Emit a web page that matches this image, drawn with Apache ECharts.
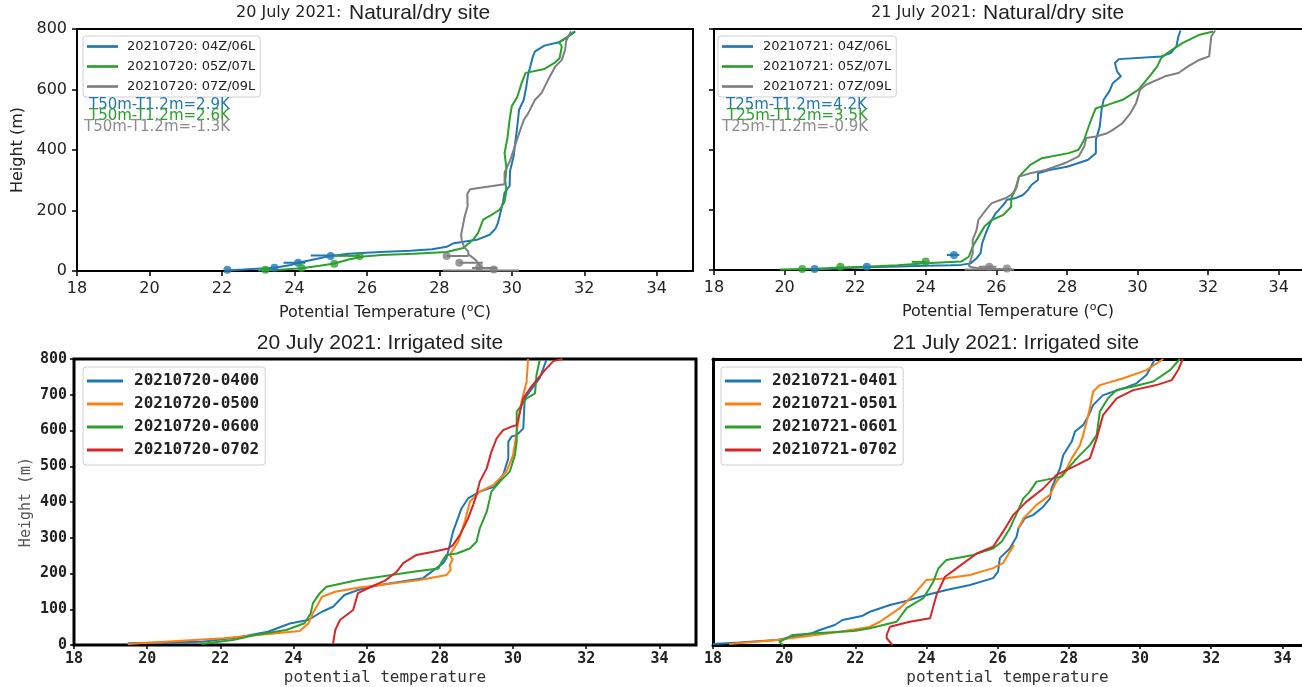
<!DOCTYPE html>
<html><head><meta charset="utf-8">
<script src="https://cdn.jsdelivr.net/npm/echarts@6/dist/echarts.min.js"></script>
<style>html,body{margin:0;padding:0;background:#fff}#c{width:1302px;height:687px}</style>
</head><body><div id="c"></div>
<script>
// ---------- DATA ----------
const panelTitles = [
  ['20 July 2021:', 'Natural/dry site'],
  ['21 July 2021:', 'Natural/dry site'],
  ['20 July 2021: Irrigated site'],
  ['21 July 2021: Irrigated site']
];
const dryNames20 = ['20210720: 04Z/06L', '20210720: 05Z/07L', '20210720: 07Z/09L'];
const dryNames21 = ['20210721: 04Z/06L', '20210721: 05Z/07L', '20210721: 07Z/09L'];
const irrNames20 = ['20210720-0400', '20210720-0500', '20210720-0600', '20210720-0702'];
const irrNames21 = ['20210721-0401', '20210721-0501', '20210721-0601', '20210721-0702'];
const dryNotes20 = ['T50m-T1.2m=2.9K', 'T50m-T1.2m=2.6K', 'T50m-T1.2m=-1.3K'];
const dryNotes21 = ['T25m-T1.2m=4.2K', 'T25m-T1.2m=3.5K', 'T25m-T1.2m=-0.9K'];

// [potential temperature (C), height (m)]
const dry20_04 = [[22.1,2],[22.6,5],[23.45,11],[23.9,20],[24.1,27],[24.6,40],[25.0,50],[25.5,57],[26.36,63],[27.2,67],[27.8,72],[28.2,80],[28.4,92],[29.03,103],[29.39,120],[29.55,140],[29.62,160],[29.68,190],[29.76,230],[29.8,259],[29.94,281],[29.95,330],[30.05,380],[30.1,430],[30.15,477],[30.2,533],[30.33,566],[30.4,610],[30.45,650],[30.52,680],[30.58,709],[30.64,726],[30.9,745],[31.3,756],[31.5,770],[31.75,792]];
const dry20_05 = [[23.0,2],[23.6,4],[24.2,9],[24.7,17],[25.1,25],[25.5,38],[25.9,48],[26.4,53],[27.3,57],[28.2,63],[28.66,76],[28.93,103],[29.07,126],[29.21,170],[29.5,190],[29.67,203],[29.8,230],[29.85,264],[29.82,300],[29.85,340],[29.8,390],[29.88,440],[29.95,510],[30.0,545],[30.15,575],[30.27,621],[30.38,655],[30.9,668],[31.2,690],[31.32,704],[31.38,742],[31.3,756],[31.56,776],[31.7,790]];
const dry20_07 = [[29.05,3],[29.15,10],[29.1,20],[29.0,37],[28.8,55],[28.8,64],[28.68,80],[28.62,100],[28.6,120],[28.65,150],[28.7,181],[28.78,214],[28.77,255],[28.85,270],[29.8,287],[29.8,326],[29.95,364],[30.08,411],[30.2,455],[30.33,499],[30.45,521],[30.64,566],[30.82,588],[31.0,632],[31.2,676],[31.38,698],[31.47,731],[31.5,760],[31.63,792]];
const dry20_dots04 = [[22.15,4],[23.45,11],[24.1,27],[25.0,50]];
const dry20_dots05 = [[23.2,4],[24.2,10],[25.1,24],[25.8,50]];
const dry20_dots07 = [[28.2,50],[28.55,27],[29.1,12],[29.5,5]];
// tower error bars: [low, high, height]
const dry20_bars04 = [[24.45,25.1,51],[23.7,24.3,27]];
const dry20_bars05 = [[25.1,25.8,50]];
const dry20_bars07 = [[28.2,28.8,50],[28.55,29.2,27],[28.9,29.6,10],[28.1,30.2,2]];

const dry21_04 = [[20.8,2],[21.5,5],[22.33,9],[23.2,12],[24.0,14],[24.7,16],[25.0,17],[25.27,22],[25.44,39],[25.55,55],[25.6,89],[25.7,122],[25.82,155],[25.98,188],[26.2,216],[26.3,233],[26.53,238],[26.75,249],[26.9,266],[27.0,283],[27.18,299],[27.18,321],[27.5,332],[28.0,343],[28.33,355],[28.6,366],[28.82,388],[28.82,432],[28.93,476],[28.98,532],[29.04,565],[29.2,593],[29.3,620],[29.53,643],[29.42,659],[29.36,687],[29.47,700],[30.67,709],[30.94,720],[31.1,742],[31.16,776],[31.22,795]];
const dry21_05 = [[19.87,2],[20.86,4],[21.6,8],[22.27,11],[23.2,16],[24.0,22],[25.0,28],[25.22,44],[25.33,78],[25.44,100],[25.66,144],[25.87,166],[26.2,183],[26.42,210],[26.42,238],[26.58,277],[26.64,310],[26.96,349],[27.29,371],[28.05,388],[28.33,399],[28.49,432],[28.55,454],[28.65,488],[28.76,521],[28.82,537],[29.15,548],[29.58,565],[30.02,598],[30.34,643],[30.56,676],[30.67,704],[30.84,720],[31.27,753],[31.76,781],[32.14,792]];
const dry21_07 = [[26.45,2],[25.9,4],[25.5,6],[25.3,9],[25.22,14],[25.27,33],[25.33,55],[25.33,100],[25.44,133],[25.49,166],[25.7,199],[25.87,222],[26.25,238],[26.42,249],[26.53,266],[26.64,310],[26.96,321],[27.4,332],[27.95,355],[28.33,377],[28.49,410],[28.55,438],[28.82,443],[29.14,454],[29.3,465],[29.58,488],[29.8,521],[29.96,554],[30.07,598],[30.24,615],[30.78,643],[31.16,654],[31.43,676],[31.76,698],[32.03,709],[32.09,776],[32.2,795]];
const dry21_dots04 = [[20.85,3],[22.33,11],[24.8,50]];
const dry21_dots05 = [[20.5,3],[21.58,11],[24.0,28]];
const dry21_dots07 = [[25.8,11],[26.3,5]];
const dry21_bars04 = [[24.6,24.95,50]];
const dry21_bars05 = [[23.6,24.0,27]];
const dry21_bars07 = [[25.1,26.5,2],[25.5,26.0,11]];

const irr20_0400 = [[19.47,5],[21.5,9],[22.5,22],[23.3,37],[23.9,60],[24.4,70],[24.78,93],[25.08,107],[25.39,140],[25.76,154],[26.12,163],[26.36,168],[27.54,187],[28.09,229],[28.18,243],[28.27,280],[28.36,317],[28.59,382],[28.77,410],[29.09,429],[29.5,443],[29.73,476],[29.87,522],[29.87,569],[29.96,583],[30.1,587],[30.28,606],[30.32,690],[30.73,747],[30.91,797]];
const irr20_0500 = [[19.47,3],[22.09,19],[24.17,39],[24.41,61],[24.53,89],[24.78,135],[25.14,149],[25.76,160],[26.36,168],[27.45,182],[28.18,196],[28.3,210],[28.27,224],[28.35,240],[28.27,252],[28.5,289],[28.68,345],[28.82,401],[29.09,429],[29.46,448],[29.82,485],[30.0,531],[30.1,597],[30.23,680],[30.37,737],[30.41,800]];
const irr20_0600 = [[21.48,3],[22.34,14],[22.95,28],[23.8,42],[24.3,61],[24.47,89],[24.53,117],[24.72,145],[24.9,163],[25.76,182],[26.36,191],[27.27,205],[27.96,214],[28.05,233],[28.18,252],[28.46,256],[28.82,270],[29.0,289],[29.09,326],[29.28,373],[29.41,429],[29.64,457],[29.91,485],[30.05,531],[30.1,569],[30.1,653],[30.37,690],[30.6,704],[30.64,755],[30.73,797]];
const irr20_0702 = [[25.08,3],[25.14,42],[25.27,70],[25.63,98],[25.76,145],[26.12,163],[26.5,180],[26.82,205],[27.0,229],[27.36,252],[27.82,261],[28.23,270],[28.36,280],[28.55,308],[28.77,354],[28.91,392],[29.0,420],[29.09,457],[29.28,494],[29.41,541],[29.55,578],[29.73,601],[29.96,611],[30.1,615],[30.19,653],[30.28,690],[30.5,723],[30.87,769],[31.1,794],[31.35,800]];

const irr21_0401 = [[18.0,3],[18.72,7],[19.8,14],[20.78,33],[21.0,42],[21.42,56],[21.64,70],[22.18,81],[22.41,93],[22.97,112],[23.35,121],[24.0,140],[24.56,154],[25.22,168],[25.87,187],[26.01,205],[26.06,243],[26.34,270],[26.53,303],[26.58,326],[26.76,354],[27.0,364],[27.28,387],[27.47,410],[27.51,438],[27.65,471],[27.75,494],[27.84,531],[28.08,569],[28.17,597],[28.4,615],[28.54,639],[28.68,671],[28.96,699],[29.53,718],[29.9,732],[30.18,755],[30.42,800]];
const irr21_0501a = [[18.45,3],[19.8,14],[21.42,35],[22.18,47],[22.41,51],[22.69,65],[23.25,103],[23.63,140],[24.0,182],[24.56,187],[25.22,196],[25.87,215],[26.15,229],[26.34,261],[26.46,280]];
const irr21_0501b = [[26.58,326],[26.72,354],[27.09,392],[27.47,420],[27.65,457],[27.94,494],[28.08,522],[28.31,559],[28.4,587],[28.5,625],[28.59,662],[28.68,709],[28.87,727],[29.53,746],[30.18,769],[30.65,800]];
const irr21_0601 = [[19.97,0],[19.86,9],[20.24,28],[20.88,33],[21.96,39],[22.41,47],[23.16,65],[23.44,103],[23.91,131],[24.19,177],[24.33,214],[24.56,238],[25.31,252],[25.87,270],[26.11,289],[26.34,326],[26.58,378],[26.72,410],[26.9,429],[27.09,457],[27.8,471],[27.98,494],[28.22,522],[28.59,559],[28.78,587],[28.87,653],[29.1,690],[29.34,713],[29.81,723],[30.37,737],[30.84,769],[31.12,800]];
const irr21_0702 = [[23.04,0],[22.88,19],[22.88,28],[22.97,51],[23.53,65],[24.1,75],[24.28,140],[24.52,191],[24.85,215],[25.41,256],[25.87,275],[26.15,317],[26.44,364],[26.81,401],[27.28,438],[27.65,476],[28.22,503],[28.59,522],[28.78,578],[28.96,643],[29.34,690],[29.81,713],[30.46,727],[30.89,741],[31.07,769],[31.2,800]];

// axis extents (right panels are cut at the image edge)
const xMinAll = 18, xTickStep = 2;
const xMaxByPanel = [35, 34.66, 35, 34.55];
const yMax = 800, yStepTop = 200, yStepBottom = 100;

// ---------- STYLE ----------
const C = {blue:'#1f77b4', orange:'#ff7f0e', green:'#2ca02c', red:'#d62728', gray:'#7f7f7f'};
const SANS = 'DejaVu Sans', MONO = 'DejaVu Sans Mono', ARIAL = 'Liberation Sans';
const TXT = '#222';
const LINE_ICON = 'path://M0,0H30V2.6H0Z';

const grids = [
  {left:77, top:29, width:616, height:242, show:true, borderColor:'#000', borderWidth:2},
  {left:714, top:29, right:0, height:241, show:false},
  {left:74, top:359, width:622, height:286, show:true, borderColor:'#000', borderWidth:3},
  {left:713, top:359, right:0, height:286, show:false}
];

function xAx(gi, top, lineW){
  const font = top ? {fontFamily:SANS, fontSize:16, color:TXT} : {fontFamily:MONO, fontWeight:'bold', fontSize:15, color:TXT};
  return {
    gridIndex:gi, type:'value', min:xMinAll, max:xMaxByPanel[gi], interval:xTickStep,
    axisLine:{show:lineW>0, onZero:false, lineStyle:{color:'#000', width:lineW||1}}, splitLine:{show:false},
    axisTick:{show:true, length: top?5:4, lineStyle:{color:'#000', width:1.5}},
    axisLabel:Object.assign({showMaxLabel:false, margin: top?10:7}, font),
    name: top ? 'Potential Temperature ({s|o}{n|C})' : 'potential temperature',
    nameLocation:'middle', nameGap: top?32:25,
    nameTextStyle: top ? {fontFamily:SANS, fontSize:16, color:TXT,
        rich:{s:{fontFamily:SANS, fontSize:11, color:TXT, padding:[0,0,9,0]}, n:{fontFamily:SANS, fontSize:16, color:TXT}}}
      : {fontFamily:MONO, fontSize:16, color:'#333'}
  };
}
function topEdge(gi, lineW){
  return {gridIndex:gi, type:'value', position:'top', min:xMinAll, max:xMaxByPanel[gi],
    axisLine:{show:true, onZero:false, lineStyle:{color:'#000', width:lineW}},
    axisTick:{show:false}, axisLabel:{show:false}, splitLine:{show:false}};
}
function yAx(gi, top, labels, ticks, lineW){
  const font = top ? {fontFamily:SANS, fontSize:16, color:TXT} : {fontFamily:MONO, fontWeight:'bold', fontSize:15, color:TXT};
  return {
    gridIndex:gi, type:'value', min:0, max:yMax, interval: top?yStepTop:yStepBottom,
    axisLine:{show:lineW>0, onZero:false, lineStyle:{color:'#000', width:lineW||1}}, splitLine:{show:false},
    axisTick:{show:ticks, length: top?5:4, lineStyle:{color:'#000', width:1.5}},
    axisLabel:Object.assign({show:labels, margin: top?10:7}, font),
    name: labels ? 'Height (m)' : '', nameLocation:'middle', nameRotate:90, nameGap: top?51:40,
    nameTextStyle: top ? {fontFamily:SANS, fontSize:16, color:TXT} : {fontFamily:MONO, fontSize:15, color:'#555'}
  };
}

const series = [];
function addLine(name, data, color, gi){
  series.push({type:'line', name, data, xAxisIndex:gi, yAxisIndex:gi, symbol:'none', showSymbol:false,
    lineStyle:{color, width:2}, itemStyle:{color}, z:3, silent:true});
}
function addDots(data, color, gi){
  series.push({type:'scatter', name:'_dots'+series.length, data, xAxisIndex:gi, yAxisIndex:gi,
    symbol:'circle', symbolSize:8, itemStyle:{color}, z:4, silent:true});
}
function addBars(bars, color, gi){
  const d = [];
  bars.forEach(b => { d.push([b[0], b[2]], [b[1], b[2]], ['-','-']); });
  series.push({type:'line', name:'_bars'+series.length, data:d, xAxisIndex:gi, yAxisIndex:gi, symbol:'none',
    connectNulls:false, lineStyle:{color, width:2}, itemStyle:{color}, z:3, silent:true});
}

const dryCols = [C.blue, C.green, C.gray];
[dry20_04, dry20_05, dry20_07].forEach((d,i)=>addLine(dryNames20[i], d, dryCols[i], 0));
[dry20_bars04, dry20_bars05, dry20_bars07].forEach((d,i)=>addBars(d, dryCols[i], 0));
[dry20_dots04, dry20_dots05, dry20_dots07].forEach((d,i)=>addDots(d, dryCols[i], 0));
[dry21_04, dry21_05, dry21_07].forEach((d,i)=>addLine(dryNames21[i], d, dryCols[i], 1));
[dry21_bars04, dry21_bars05, dry21_bars07].forEach((d,i)=>addBars(d, dryCols[i], 1));
[dry21_dots04, dry21_dots05, dry21_dots07].forEach((d,i)=>addDots(d, dryCols[i], 1));
const irrCols = [C.blue, C.orange, C.green, C.red];
[irr20_0400, irr20_0500, irr20_0600, irr20_0702].forEach((d,i)=>addLine(irrNames20[i], d, irrCols[i], 2));
addLine(irrNames21[0], irr21_0401, C.blue, 3);
addLine(irrNames21[1], irr21_0501a, C.orange, 3);
addLine(irrNames21[1], irr21_0501b, C.orange, 3);
addLine(irrNames21[2], irr21_0601, C.green, 3);
addLine(irrNames21[3], irr21_0702, C.red, 3);

function legend(names, cols, left, top, mono, lineW, textPad, itemGap){
  return {
    data:names.map((n,i)=>({name:n, icon:LINE_ICON, itemStyle:{color:cols[i]}})),
    orient:'vertical', left, top, selectedMode:false,
    backgroundColor:'#fff', borderColor:'#d0d0d0', borderWidth:1, borderRadius:3,
    padding: mono ? [6,6,7,4] : [4,5,4,4],
    itemWidth:lineW, itemHeight:14, itemGap, symbolKeepAspect:true,
    textStyle: mono ? {fontFamily:MONO, fontWeight:'bold', fontSize:16, color:TXT, padding:[0,0,0,textPad]}
                    : {fontFamily:SANS, fontSize:13, color:TXT, padding:[0,0,0,textPad]}
  };
}

const titles = [
  {text:panelTitles[0][0], left:236, top:5, textStyle:{fontFamily:SANS, fontSize:16, fontWeight:'normal', color:TXT}},
  {text:panelTitles[0][1], left:349, top:3, textStyle:{fontFamily:ARIAL, fontSize:21, fontWeight:'normal', color:TXT}},
  {text:panelTitles[1][0], left:871, top:5, textStyle:{fontFamily:SANS, fontSize:16, fontWeight:'normal', color:TXT}},
  {text:panelTitles[1][1], left:983, top:3, textStyle:{fontFamily:ARIAL, fontSize:21, fontWeight:'normal', color:TXT}},
  {text:panelTitles[2][0], left:380, textAlign:'center', top:333, textStyle:{fontFamily:ARIAL, fontSize:21, fontWeight:'normal', color:TXT}},
  {text:panelTitles[3][0], left:1016, textAlign:'center', top:333, textStyle:{fontFamily:ARIAL, fontSize:21, fontWeight:'normal', color:TXT}}
];
titles.forEach(t=>{ t.padding = 0; });

function note(text, x, y, color){
  return {type:'text', left:x, top:y, silent:true, z:10,
    style:{text, fill:color, font:'15px "DejaVu Sans"'}};
}
const noteCols = [C.blue, C.green, '#8c8c8c'];
const graphics = [
  note(dryNotes20[0], 89, 98, noteCols[0]),
  note(dryNotes20[1], 89, 109, noteCols[1]),
  note(dryNotes20[2], 84, 120, noteCols[2]),
  note(dryNotes21[0], 726, 98, noteCols[0]),
  note(dryNotes21[1], 727, 109, noteCols[1]),
  note(dryNotes21[2], 722, 120, noteCols[2])
];

const option = {
  animation:false,
  backgroundColor:'#fff',
  title:titles,
  grid:grids,
  xAxis:[xAx(0,true,0), xAx(1,true,2), xAx(2,false,0), xAx(3,false,3), topEdge(1,2), topEdge(3,3)],
  yAxis:[yAx(0,true,true,true,0), yAx(1,true,false,true,2), yAx(2,false,true,true,0), yAx(3,false,false,false,3)],
  legend:[
    legend(dryNames20, dryCols, 83, 36, false, 31, 4, 7),
    legend(dryNames21, dryCols, 718, 36, false, 31, 5, 7),
    legend(irrNames20, irrCols, 83, 367, true, 36, 6, 7),
    legend(irrNames21, irrCols, 721, 367, true, 36, 6, 7)
  ],
  graphic:graphics,
  series
};
const chart = echarts.init(document.getElementById('c'), null, {renderer:'canvas'});
chart.setOption(option);
</script></body></html>
